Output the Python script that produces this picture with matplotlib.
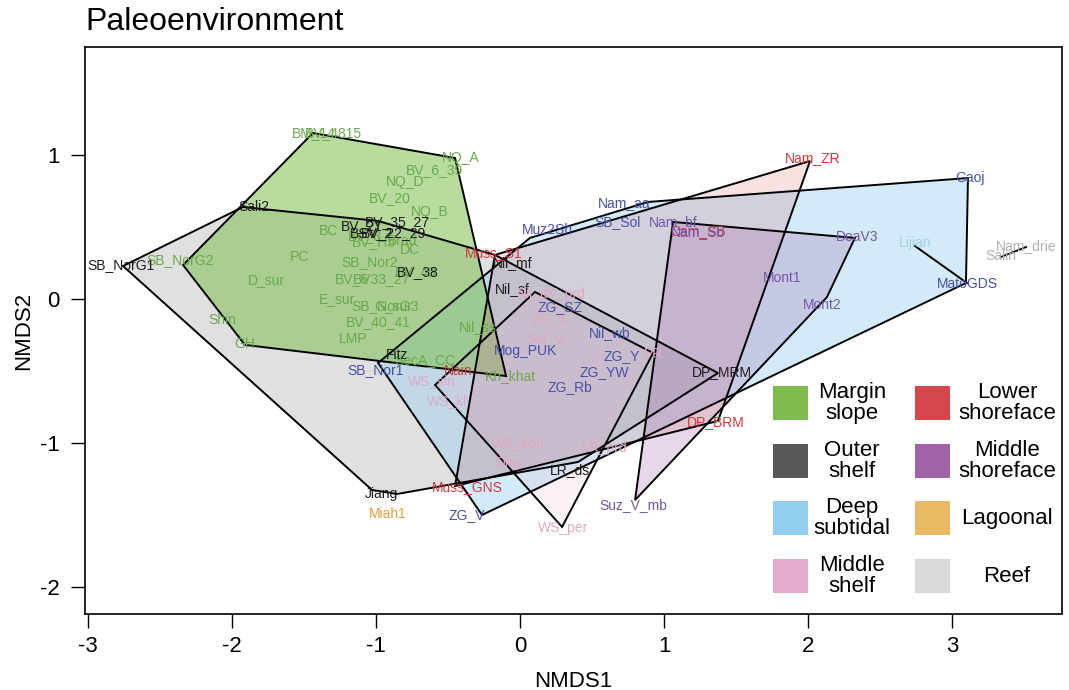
import matplotlib
matplotlib.use("Agg")
import matplotlib.pyplot as plt
from matplotlib.patches import Polygon, Rectangle

plt.rcParams["font.family"] = ["Liberation Sans", "DejaVu Sans"]
plt.rcParams["axes.unicode_minus"] = False

# ── Site scores (NMDS1, NMDS2) grouped by paleoenvironment ───────────────────
margin_names = ["BM_14", "BV_4815", "NQ_A", "BV_6_39", "NQ_D", "BV_20", "NQ_B",
                "BC", "BV_3", "BV_H5", "Brad", "DC", "PC", "SB_Nor2", "BV_49",
                "BV_6", "BV33_27", "D_sur", "E_sur", "SB_NorG3", "G_sur",
                "BV_40_41", "LMP", "Shin", "GH", "SB_NorG2", "Nil_ss", "Kh_khat",
                "SecA_CC"]
margin_x = [-1.431, -1.299, -0.410, -0.597, -0.799, -0.903, -0.625,
            -1.333, -1.076, -1.014, -0.813, -0.764, -1.528, -1.042, -0.722,
            -1.167, -0.958, -1.764, -1.271, -0.938, -0.882,
            -0.986, -1.160, -2.069, -1.910, -2.361, -0.292, -0.069,
            -0.660]
margin_y = [1.153, 1.153, 0.979, 0.896, 0.813, 0.701, 0.604,
            0.472, 0.438, 0.396, 0.403, 0.340, 0.292, 0.257, 0.188,
            0.139, 0.139, 0.132, 0.000, -0.049, -0.049,
            -0.160, -0.278, -0.146, -0.313, 0.271, -0.194, -0.535,
            -0.424]

outer_names = ["SB_NorG1", "Sali2", "BV_21", "BV_35_27", "BSV_2", "BV_22_29",
               "BV_38", "Nil_mf", "Nil_sf", "Fitz", "LR_ds", "DP_MRM", "Jiang"]
outer_x = [-2.771, -1.847, -1.097, -0.854, -1.028, -0.882,
           -0.708, -0.049, -0.056, -0.854, 0.347, 1.403, -0.965]
outer_y = [0.236, 0.639, 0.507, 0.535, 0.458, 0.458,
           0.188, 0.250, 0.069, -0.389, -1.188, -0.507, -1.354]

lower_names = ["Muss_S1", "Nam_ZR", "Cam_SB", "Nain", "Muss_GNS", "DP_BRM"]
lower_x = [-0.181, 2.035, 1.236, -0.431, -0.368, 1.361]
lower_y = [0.319, 0.979, 0.472, -0.500, -1.306, -0.854]

mshelf_names = ["Nil_dV_prd", "ZG_K", "Sol_V", "PR", "WS_sin", "WS_kl",
                "WS_kon", "Ong", "WS_per", "LR_prd"]
mshelf_x = [0.215, 0.208, 0.174, 0.924, -0.611, -0.507,
            -0.014, -0.090, 0.299, 0.590]
mshelf_y = [0.035, -0.139, -0.278, -0.382, -0.569, -0.708,
            -1.000, -1.139, -1.590, -1.035]

deep_names = ["Muz2Sh", "Nam_aa", "SB_Sol", "ZG_SZ", "Nil_wb", "Mog_PUK",
              "ZG_Y", "ZG_YW", "ZG_Rb", "SB_Nor1", "ZG_V", "Gaoj", "MatoGDS"]
deep_x = [0.188, 0.722, 0.674, 0.278, 0.625, 0.042,
          0.708, 0.583, 0.347, -1.000, -0.368, 3.125, 3.104]
deep_y = [0.479, 0.667, 0.535, -0.056, -0.236, -0.361,
          -0.396, -0.507, -0.611, -0.493, -1.500, 0.840, 0.104]

mshore_names = ["Nam_bf", "Nam_Sb", "DeaV3", "Mont1", "Mont2", "Suz_V_mb"]
mshore_x = [1.063, 1.236, 2.340, 1.819, 2.097, 0.785]
mshore_y = [0.535, 0.465, 0.431, 0.146, -0.042, -1.431]

lijian_names = ["Lijian"]
lijian_x = [2.743]
lijian_y = [0.389]

reef_names = ["Nam_drie", "Salin"]
reef_x = [3.514, 3.340]
reef_y = [0.368, 0.299]

lagoon_names = ["Miah1"]
lagoon_x = [-0.917]
lagoon_y = [-1.493]

# ── Convex hull outlines (vertex order around each hull) ─────────────────────
margin_hull = [(-1.438, 1.153), (-0.451, 0.979), (-0.097, -0.535),
               (-1.910, -0.319), (-2.340, 0.236)]
outer_hull = [(-2.757, 0.229), (-1.924, 0.639), (-0.986, 0.542),
              (-0.174, 0.306), (1.375, -0.514), (0.403, -1.132),
              (-0.854, -1.354), (-1.028, -1.326)]
deep_hull = [(3.111, 0.840), (3.097, 0.111), (-0.264, -1.500),
             (-0.986, -0.444), (0.069, 0.424), (0.889, 0.674)]
lower_hull = [(2.014, 0.958), (-0.174, 0.306), (-0.451, -1.299),
              (1.375, -0.847)]
mshore_hull = [(1.063, 0.535), (2.326, 0.424), (2.132, 0.014),
               (0.799, -1.396)]
mshelf_hull = [(0.104, 0.049), (0.924, -0.375), (0.292, -1.583),
               (-0.590, -0.597)]
lijian_seg = [(2.743, 0.368), (3.104, 0.111)]
reef_seg = [(3.340, 0.292), (3.514, 0.361)]

# legend entries
legend_labels = ["Margin\nslope", "Outer\nshelf", "Deep\nsubtidal", "Middle\nshelf",
                 "Lower\nshoreface", "Middle\nshoreface", "Lagoonal", "Reef"]
legend_colors = ["#7fbc4e", "#58575a", "#93cdef", "#e5abcd",
                 "#d5474b", "#a064a6", "#e9b963", "#d9d9d9"]

fig = plt.figure(figsize=(10.69, 6.90), dpi=100)
ax = fig.add_axes([85 / 1069, 76 / 690, 977 / 1069, 567 / 690])
ax.set_xlim(-3.021, 3.764)
ax.set_ylim(-2.1875, 1.75)

hulls = [
    (outer_hull, "#58585a", 0.18),
    (deep_hull, "#93cdf0", 0.40),
    (margin_hull, "#7fbf4f", 0.55),
    (lower_hull, "#d9464a", 0.16),
    (mshore_hull, "#a064a8", 0.25),
    (mshelf_hull, "#e6a8cc", 0.16),
]
for verts, col, a in hulls:
    ax.add_patch(Polygon(verts, closed=True, facecolor=col, alpha=a,
                         edgecolor="none", zorder=1))
for verts, col, a in hulls:
    ax.add_patch(Polygon(verts, closed=True, facecolor="none",
                         edgecolor="black", linewidth=1.4, zorder=2))
for seg in (lijian_seg, reef_seg):
    ax.plot([p[0] for p in seg], [p[1] for p in seg], color="black",
            linewidth=1.4, zorder=2)

label_sets = [
    (margin_names, margin_x, margin_y, "#6aa84c"),
    (outer_names, outer_x, outer_y, "#1c1c1c"),
    (lower_names, lower_x, lower_y, "#d23a3c"),
    (mshelf_names, mshelf_x, mshelf_y, "#dfa8c4"),
    (deep_names, deep_x, deep_y, "#4651a8"),
    (mshore_names, mshore_x, mshore_y, "#7656a8"),
    (lijian_names, lijian_x, lijian_y, "#a0cdea"),
    (reef_names, reef_x, reef_y, "#b0b0b0"),
    (lagoon_names, lagoon_x, lagoon_y, "#e6a03a"),
]
for names, xs, ys, col in label_sets:
    for n, x, y in zip(names, xs, ys):
        ax.text(x, y, n, color=col, fontsize=10, ha="center", va="center",
                zorder=3)

# legend: coloured squares with two-line labels, two columns
sq_w, sq_h = 0.242, 0.233
col_sq = [1.755, 2.741]
col_txt = [2.306, 3.382]
row_y = [-0.722, -1.125, -1.521, -1.924]
for i, (lab, col) in enumerate(zip(legend_labels, legend_colors)):
    c, r = divmod(i, 4)
    ax.add_patch(Rectangle((col_sq[c], row_y[r] - sq_h / 2), sq_w, sq_h,
                           facecolor=col, edgecolor="none", zorder=4))
    ax.text(col_txt[c], row_y[r], lab, fontsize=16, ha="center", va="center",
            linespacing=1.0, zorder=4)

ax.set_xticks([-3, -2, -1, 0, 1, 2, 3])
ax.set_yticks([-2, -1, 0, 1])
ax.tick_params(direction="out", length=10, width=1.0, labelsize=16, pad=6)
ax.tick_params(axis="y", pad=8)
for s in ax.spines.values():
    s.set_linewidth(1.2)
ax.set_xlabel("NMDS1", fontsize=16, labelpad=10)
ax.set_ylabel("NMDS2", fontsize=16, labelpad=4)

fig.text(85 / 1069, 1 - 22 / 690, "Paleoenvironment", fontsize=23,
         ha="left", va="center")

fig.savefig("out.png", dpi=100)
